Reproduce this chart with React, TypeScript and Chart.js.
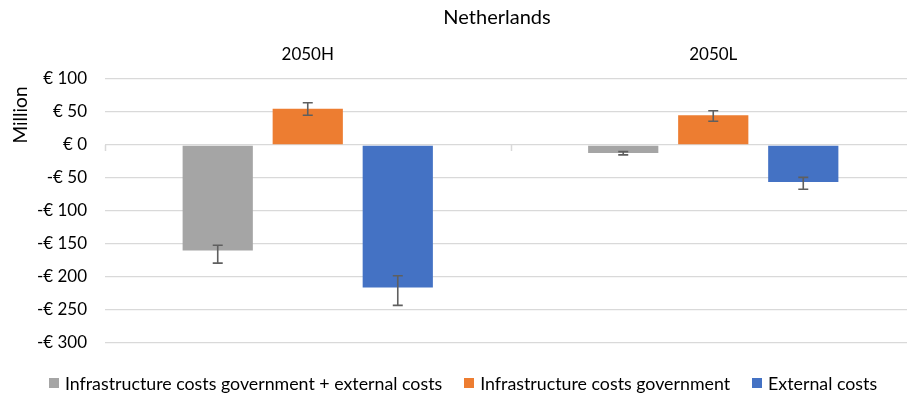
import React, { useEffect, useRef } from "react";
import { Chart, registerables } from "chart.js";

Chart.register(...registerables);

const chartTitle = "Netherlands";
const yAxisTitle = "Million";
const categories = ["2050H", "2050L"];
const seriesNames = [
  "Infrastructure costs government + external costs",
  "Infrastructure costs government",
  "External costs",
];
const combinedValues = [-160, -12];
const governmentValues = [55, 45];
const externalValues = [-216, -56];
const combinedErrLow = [-179, -15];
const combinedErrHigh = [-152, -10];
const governmentErrLow = [45, 36];
const governmentErrHigh = [64, 52];
const externalErrLow = [-243, -67];
const externalErrHigh = [-198, -49];
const yMin = -300;
const yMax = 100;
const yStep = 50;
const seriesColors = ["#A5A5A5", "#ED7D31", "#4472C4"];

const FONT = "Lato, Calibri, Carlito, sans-serif";

const errorBarPlugin = {
  id: "errorBars",
  afterDatasetsDraw(chart: any) {
    const ctx = chart.ctx;
    const y = chart.scales.y;
    chart.data.datasets.forEach((ds: any, di: number) => {
      const meta = chart.getDatasetMeta(di);
      meta.data.forEach((bar: any, i: number) => {
        const yl = y.getPixelForValue(ds.errLow[i]);
        const yh = y.getPixelForValue(ds.errHigh[i]);
        const x = bar.x;
        ctx.save();
        ctx.strokeStyle = "#5f5f5f";
        ctx.lineWidth = 1.6;
        ctx.beginPath();
        ctx.moveTo(x, yl);
        ctx.lineTo(x, yh);
        ctx.moveTo(x - 5, yl);
        ctx.lineTo(x + 5, yl);
        ctx.moveTo(x - 5, yh);
        ctx.lineTo(x + 5, yh);
        ctx.stroke();
        ctx.restore();
      });
    });
  },
};

const decorPlugin = {
  id: "decor",
  beforeDatasetsDraw(chart: any) {
    const ctx = chart.ctx;
    const x = chart.scales.x;
    const y = chart.scales.y;
    const y0 = y.getPixelForValue(0);
    const w = (x.right - x.left) / categories.length;
    ctx.save();
    ctx.strokeStyle = "#D9D9D9";
    ctx.lineWidth = 1.5;
    for (let k = 0; k <= categories.length; k++) {
      const px = Math.round(x.left + k * w) + 0.5;
      ctx.beginPath();
      ctx.moveTo(px, y0);
      ctx.lineTo(px, y0 + 6);
      ctx.stroke();
    }
    ctx.restore();
  },
  afterDraw(chart: any) {
    const ctx = chart.ctx;
    ctx.save();
    ctx.fillStyle = "#000";
    ctx.font = `20px ${FONT}`;
    ctx.textAlign = "center";
    ctx.textBaseline = "middle";
    ctx.fillText(chartTitle, 497, 18);
    ctx.save();
    ctx.translate(21, 115);
    ctx.rotate(-Math.PI / 2);
    ctx.font = `19px ${FONT}`;
    ctx.fillText(yAxisTitle, 0, 0);
    ctx.restore();

    // legend
    ctx.font = `17.8px ${FONT}`;
    ctx.textAlign = "left";
    ctx.textBaseline = "middle";
    const box = 10;
    const boxGap = 6;
    const itemGap = 22;
    const widths = chart.data.datasets.map((ds: any) => box + boxGap + ctx.measureText(ds.label).width);
    const total = widths.reduce((a: number, b: number) => a + b, 0) + itemGap * (widths.length - 1);
    let cx = 463 - total / 2;
    const cy = 383;
    chart.data.datasets.forEach((ds: any, i: number) => {
      ctx.fillStyle = ds.backgroundColor;
      ctx.fillRect(Math.round(cx), cy - box / 2, box, box);
      ctx.fillStyle = "#000";
      ctx.fillText(ds.label, cx + box + boxGap, cy + 1);
      cx += widths[i] + itemGap;
    });
    ctx.restore();
  },
};

function makeDataset(label: string, data: number[], lo: number[], hi: number[], color: string) {
  return {
    label,
    data,
    errLow: lo,
    errHigh: hi,
    backgroundColor: color,
    borderWidth: 0,
    categoryPercentage: 0.666,
    barPercentage: 0.78,
  } as any;
}

export default function App() {
  const ref = useRef<HTMLCanvasElement>(null);
  useEffect(() => {
    if (!ref.current) return;
    const chart = new Chart(ref.current, {
      type: "bar",
      data: {
        labels: categories,
        datasets: [
          makeDataset(seriesNames[0], combinedValues, combinedErrLow, combinedErrHigh, seriesColors[0]),
          makeDataset(seriesNames[1], governmentValues, governmentErrLow, governmentErrHigh, seriesColors[1]),
          makeDataset(seriesNames[2], externalValues, externalErrLow, externalErrHigh, seriesColors[2]),
        ],
      },
      options: {
        animation: false,
        responsive: false,
        devicePixelRatio: 1,
        layout: { padding: { top: 0, left: 0, right: 0, bottom: 50 } },
        plugins: {
          title: { display: false },
          tooltip: { enabled: false },
          legend: { display: false },
        },
        scales: {
          x: {
            position: "top",
            grid: { display: false, drawTicks: false },
            border: { display: false },
            ticks: { color: "#000", font: { family: FONT, size: 17 }, padding: 14 },
            afterFit: (s: any) => {
              s.height = 79;
            },
          },
          y: {
            min: yMin,
            max: yMax,
            grid: { color: "#D9D9D9", lineWidth: 1.3, drawTicks: false },
            border: { display: false },
            ticks: {
              stepSize: yStep,
              padding: 18,
              color: "#000",
              font: { family: FONT, size: 17 },
              callback: (v: any) => (v < 0 ? `-€ ${Math.abs(v)}` : `€ ${v}`),
            },
            afterFit: (s: any) => {
              s.width = 105;
            },
          },
        },
      },
      plugins: [decorPlugin, errorBarPlugin],
    });
    return () => chart.destroy();
  }, []);
  return (
    <div style={{ position: "absolute", left: 0, top: 0, width: 907, height: 393, overflow: "hidden", background: "#fff" }}>
      <canvas ref={ref} width={916} height={393} style={{ width: 916, height: 393 }} />
    </div>
  );
}
